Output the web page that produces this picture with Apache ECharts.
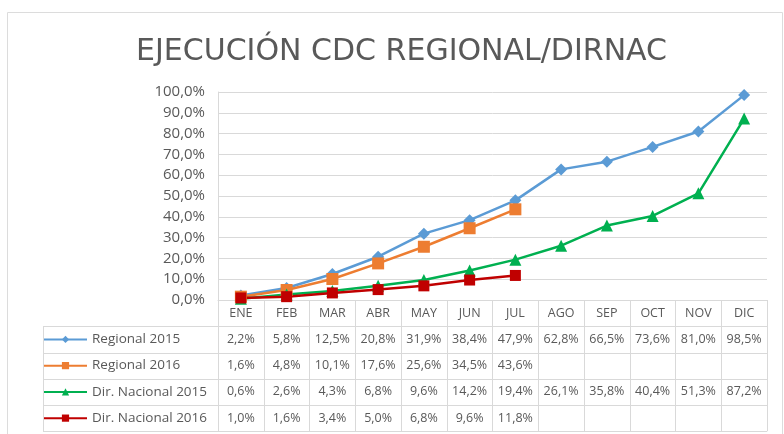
<!DOCTYPE html>
<html>
<head>
<meta charset="utf-8">
<script src="https://cdn.jsdelivr.net/npm/echarts@6/dist/echarts.min.js"></script>
<style>html,body{margin:0;padding:0;background:#fff;}#c{width:784px;height:434px;}</style>
</head>
<body>
<div id="c"></div>
<script>
var months = ['ENE','FEB','MAR','ABR','MAY','JUN','JUL','AGO','SEP','OCT','NOV','DIC'];
var regional2015 = [2.2, 5.8, 12.5, 20.8, 31.9, 38.4, 47.9, 62.8, 66.5, 73.6, 81.0, 98.5];
var regional2016 = [1.6, 4.8, 10.1, 17.6, 25.6, 34.5, 43.6];
var dirNacional2015 = [0.6, 2.6, 4.3, 6.8, 9.6, 14.2, 19.4, 26.1, 35.8, 40.4, 51.3, 87.2];
var dirNacional2016 = [1.0, 1.6, 3.4, 5.0, 6.8, 9.6, 11.8];
var seriesNames = ['Regional 2015', 'Regional 2016', 'Dir. Nacional 2015', 'Dir. Nacional 2016'];
var seriesData = [regional2015, regional2016, dirNacional2015, dirNacional2016];
var yTicks = [0, 10, 20, 30, 40, 50, 60, 70, 80, 90, 100];

var colors = ['#5B9BD5', '#ED7D31', '#00B050', '#C00000'];
var symbols = ['diamond', 'rect', 'triangle', 'rect'];
var symbolSizes = [12, 12, 12, 11];
var ROW = 26.25;
var HEAD_TOP = 300;
var FONT = '"Open Sans", sans-serif';
var GRAY = '#595959';
var LINE = '#d9d9d9';

function pct(v) {
  if (v === undefined || v === null) return ' ';
  return v.toFixed(1).replace('.', ',') + '%';
}

var chart = echarts.init(document.getElementById('c'), null, {renderer: 'canvas'});
var LEG_H = 16;
var legends = seriesNames.map(function (name, i) {
  return {
    orient: 'horizontal',
    left: 43,
    top: HEAD_TOP + ROW * (i + 1) + (ROW - LEG_H) / 2,
    itemWidth: 43,
    itemHeight: 9,
    itemGap: 0,
    padding: 0,
    selectedMode: false,
    textStyle: {fontFamily: FONT, fontSize: 13.5, color: GRAY, lineHeight: LEG_H},
    data: [name]
  };
});
var option = {
  animation: false,
  backgroundColor: '#fff',
  title: {
    text: 'EJECUCIÓN CDC REGIONAL/DIRNAC',
    left: 131,
    top: 32,
    textStyle: {fontFamily: '"DejaVu Sans", sans-serif', fontSize: 30, fontWeight: 'normal', color: GRAY}
  },
  legend: legends,
  grid: {left: 218, right: 17, top: 92, bottom: 134},
  xAxis: {
    type: 'category',
    data: months,
    boundaryGap: true,
    axisLine: {show: true, lineStyle: {color: LINE, width: 1}},
    axisTick: {show: true, length: ROW * 5, interval: 0, lineStyle: {color: LINE, width: 1}},
    axisLabel: {
      interval: 0,
      margin: 0,
      formatter: function (value, idx) {
        var lines = ['{m|' + value + '}'];
        seriesData.forEach(function (s) { lines.push('{v|' + pct(s[idx]) + '}'); });
        return lines.join('\n');
      },
      rich: {
        m: {fontFamily: FONT, fontSize: 12.5, lineHeight: ROW, height: ROW, color: GRAY},
        v: {fontFamily: FONT, fontSize: 12.5, lineHeight: ROW, height: ROW, color: GRAY}
      }
    },
    splitLine: {show: false}
  },
  yAxis: {
    type: 'value',
    min: yTicks[0],
    max: yTicks[yTicks.length - 1],
    interval: yTicks[1] - yTicks[0],
    axisLine: {show: true, lineStyle: {color: LINE}},
    axisTick: {show: false},
    axisLabel: {
      margin: 13,
      fontFamily: FONT, fontSize: 15, color: GRAY,
      formatter: function (v) { return pct(v); }
    },
    splitLine: {show: true, lineStyle: {color: LINE, width: 1}}
  },
  series: seriesNames.map(function (name, i) {
    return {
      name: name,
      type: 'line',
      data: seriesData[i],
      symbol: symbols[i],
      symbolSize: symbolSizes[i],
      showAllSymbol: true,
      lineStyle: {color: colors[i], width: 2.5},
      itemStyle: {color: colors[i]},
      emphasis: {disabled: true}
    };
  })
};
chart.setOption(option);

// table borders derived from the chart's own axes
var y0 = chart.convertToPixel({yAxisIndex: 0}, 0);
var c0 = chart.convertToPixel({xAxisIndex: 0}, months[0]);
var c1 = chart.convertToPixel({xAxisIndex: 0}, months[1]);
var band = c1 - c0;
var xRight = chart.convertToPixel({xAxisIndex: 0}, months[months.length - 1]) + band / 2;
var tableLeft = 43;
var g = [];
for (var r = 1; r <= seriesNames.length + 1; r++) {
  var yy = Math.round(y0 + ROW * r) + 0.5;
  g.push({type: 'line', silent: true, shape: {x1: tableLeft, y1: yy, x2: xRight, y2: yy}, style: {stroke: LINE, lineWidth: 1}});
}
var yb = Math.round(y0 + ROW * (seriesNames.length + 1)) + 0.5;
g.push({type: 'line', silent: true, shape: {x1: tableLeft + 0.5, y1: Math.round(y0 + ROW) + 0.5, x2: tableLeft + 0.5, y2: yb}, style: {stroke: LINE, lineWidth: 1}});
// outer chart frame
g.push({type: 'rect', silent: true, z: -10, shape: {x: 7.5, y: 12.5, width: 775, height: 440}, style: {fill: null, stroke: '#dcdcdc', lineWidth: 1}});
chart.setOption({graphic: g});
</script>
</body>
</html>
